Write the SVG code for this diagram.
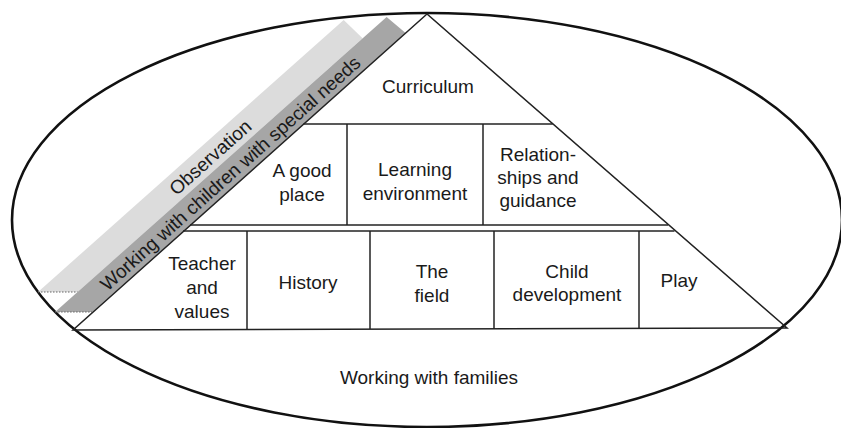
<svg xmlns="http://www.w3.org/2000/svg" width="841" height="428" viewBox="0 0 841 428">
<style>
text{font-family:"Liberation Sans",Arial,Helvetica,sans-serif;font-size:19px;fill:#1a1a1a;text-anchor:middle}
.ln{stroke:#222;stroke-width:1.5;fill:none}
.dot{stroke:#666;stroke-width:1.2;stroke-dasharray:1.5 1.5;fill:none}
</style>
<rect width="841" height="428" fill="#fff"/>
<g id="frame">
<ellipse cx="427" cy="220" rx="415" ry="207" fill="none" stroke="#111" stroke-width="2.6"/>
</g>
<g id="strip-observation">
<polygon points="343.7,20 362.6,38.3 77.6,292 38,292" fill="#dcdcdc"/>
<line class="dot" x1="38" y1="292" x2="77.6" y2="292"/>
<text transform="translate(210,157) rotate(-41.76)" y="7">Observation</text>
</g>
<g id="strip-special-needs">
<polygon points="386.6,17 405.6,33 92.1,312 55.1,312" fill="#a6a6a6"/>
<line class="dot" x1="55.1" y1="312" x2="92.1" y2="312"/>
<text transform="translate(230,173) rotate(-41.76)" y="7">Working with children with special needs</text>
</g>
<g id="pyramid">
<polygon class="ln" points="427,14 73,330 787,328"/>
<line class="ln" x1="303.4" y1="124" x2="552.7" y2="124"/>
<line class="ln" x1="190" y1="225" x2="668" y2="225"/>
<line class="ln" x1="183" y1="231" x2="674.5" y2="231"/>
<line class="ln" x1="347" y1="124" x2="347" y2="225"/>
<line class="ln" x1="483" y1="124" x2="483" y2="225"/>
<line class="ln" x1="247" y1="231" x2="247" y2="329"/>
<line class="ln" x1="370" y1="231" x2="370" y2="329"/>
<line class="ln" x1="494" y1="231" x2="494" y2="329"/>
<line class="ln" x1="639" y1="231" x2="639" y2="329"/>
</g>
<g id="curriculum"><text x="428" y="93">Curriculum</text></g>
<g id="good-place"><text x="302" y="177">A good</text><text x="302" y="201">place</text></g>
<g id="learning-environment"><text x="415" y="176">Learning</text><text x="415" y="200">environment</text></g>
<g id="relationships"><text x="538" y="161">Relation-</text><text x="538" y="184">ships and</text><text x="538" y="207">guidance</text></g>
<g id="teacher"><text x="202" y="270">Teacher</text><text x="202" y="294">and</text><text x="202" y="318">values</text></g>
<g id="history"><text x="308" y="289">History</text></g>
<g id="field"><text x="432" y="278">The</text><text x="432" y="302">field</text></g>
<g id="child-development"><text x="567" y="278">Child</text><text x="567" y="301">development</text></g>
<g id="play"><text x="679" y="287">Play</text></g>
<g id="families"><text x="429" y="384">Working with families</text></g>
</svg>
